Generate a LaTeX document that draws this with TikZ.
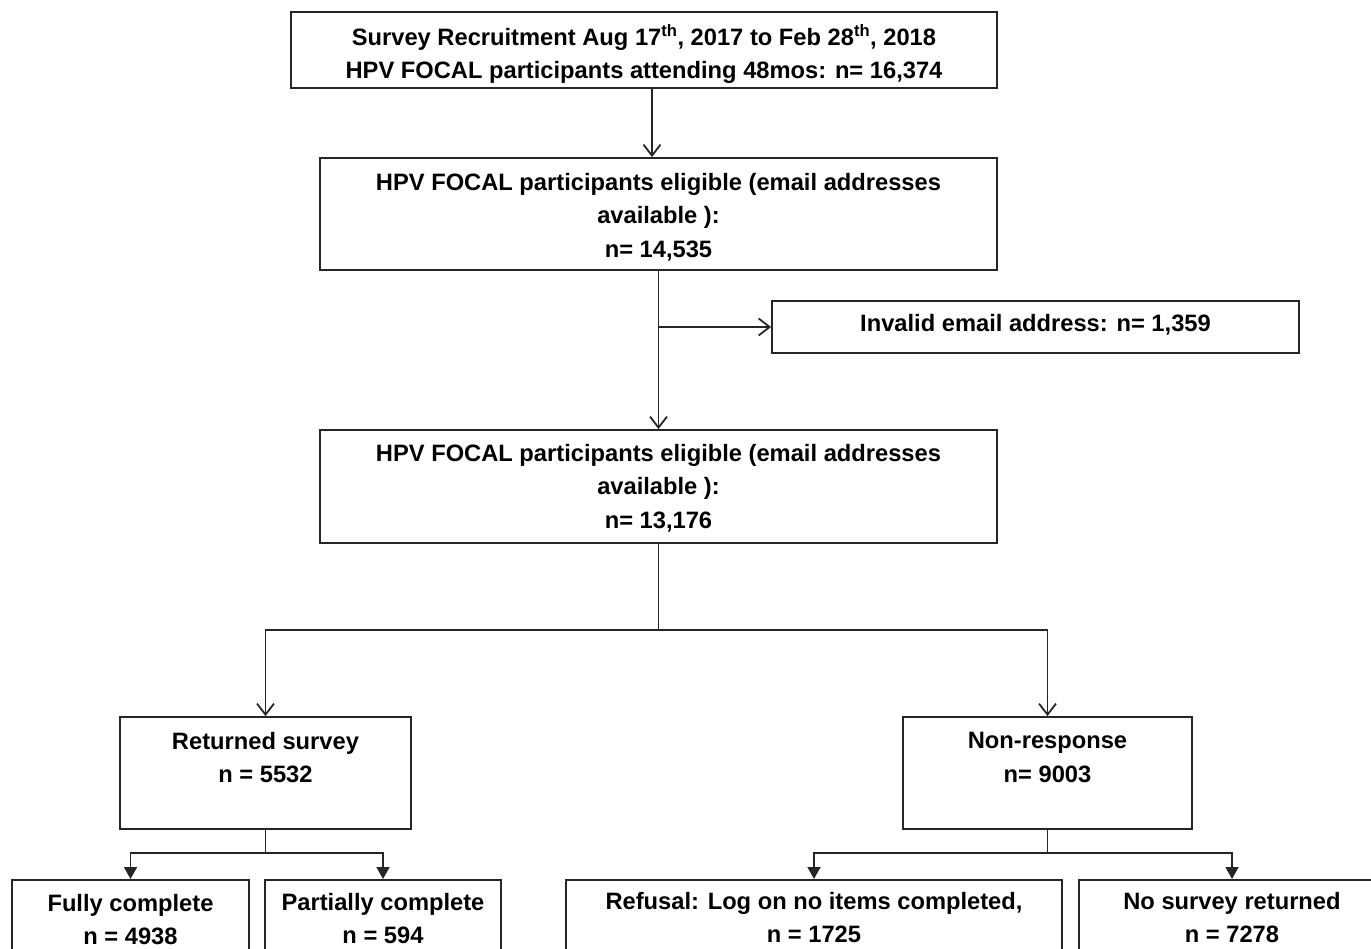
\documentclass[tikz,border=0pt]{standalone}
\usepackage{fontspec}
\setmainfont{Liberation Sans}
\usetikzlibrary{arrows.meta}
\begin{document}
\begin{tikzpicture}[x=1pt,y=-1pt,
  box/.style={draw=black!85,line width=1.8pt,inner sep=0pt},
  txt/.style={inner sep=0pt,align=center,anchor=north,
    font=\fontsize{23.7}{33.5}\selectfont\bfseries},
  conn/.style={draw=black!85,line width=1.8pt},
  openarr/.style={conn,-{Straight Barb[length=11pt,width=17pt,line width=1.8pt]}},
  filarr/.style={conn,-{Triangle[length=12pt,width=13pt]}}]
\useasboundingbox (0,0) rectangle (1371,949);
\begin{scope}
\clip (0,0) rectangle (1371,949);
\node[box,minimum width=706pt,minimum height=76pt] (b1) at (644,50) {};
\node[box,minimum width=677pt,minimum height=112pt] (b2) at (658.5,214) {};
\node[box,minimum width=527pt,minimum height=52pt] (inv) at (1035.5,327) {};
\node[box,minimum width=677pt,minimum height=113pt] (b3) at (658.5,486.5) {};
\node[box,minimum width=291pt,minimum height=112pt] (ret) at (265.5,773) {};
\node[box,minimum width=289pt,minimum height=112pt] (non) at (1047.5,773) {};
\node[box,minimum width=237pt,minimum height=80pt,anchor=north] (full) at (130.5,879) {};
\node[box,minimum width=236pt,minimum height=80pt,anchor=north] (part) at (383,879) {};
\node[box,minimum width=496pt,minimum height=78pt,anchor=north] (ref) at (814,879) {};
\node[box,minimum width=306pt,minimum height=78pt,anchor=north] (nos) at (1232,879) {};

\node[txt] (b1t) at ([yshift=-13pt]b1.north)
  {Survey Recruitment Aug 17\textsuperscript{th}, 2017 to Feb 28\textsuperscript{th}, 2018\\HPV FOCAL participants attending 48mos: n= 16,374};
\node[txt] (b2t) at ([yshift=-16pt]b2.north)
  {HPV FOCAL participants eligible (email addresses\\available ):\\n= 14,535};
\node[txt,anchor=center] (invt) at ([yshift=2pt]inv.center) {Invalid email address: n= 1,359};
\node[txt] (b3t) at ([yshift=-15pt]b3.north)
  {HPV FOCAL participants eligible (email addresses\\available ):\\n= 13,176};
\node[txt] (rett) at ([yshift=-16pt]ret.north) {Returned survey\\n = 5532};
\node[txt] (nont) at ([yshift=-16pt]non.north) {Non-response\\n= 9003};
\node[txt] (fullt) at ([yshift=-15pt]full.north) {Fully complete\\n = 4938};
\node[txt] (partt) at ([yshift=-14pt]part.north) {Partially complete\\n = 594};
\node[txt] (reft) at ([yshift=-13pt]ref.north) {Refusal: Log on no items completed,\\n = 1725};
\node[txt] (nost) at ([yshift=-13pt]nos.north) {No survey returned\\n = 7278};

\draw[openarr] ([xshift=8pt]b1.south) -- ([xshift=8pt]b1.south |- b2.north);
\draw[openarr] (b2.south) -- (b3.north);
\coordinate (jinv) at (b2.south |- inv.west);
\draw[openarr] (jinv) -- (inv.west);

\coordinate (s3) at (658.5,630);
\draw[conn] (b3.south) -- (s3);
\draw[openarr] (s3) -| (ret.north);
\draw[openarr] (s3) -| (non.north);

\coordinate (sr) at (265.5,853);
\draw[conn] (ret.south) -- (sr);
\draw[filarr] (sr) -| (full.north);
\draw[filarr] (sr) -| (part.north);

\coordinate (sn) at (1047.5,853);
\draw[conn] (non.south) -- (sn);
\draw[filarr] (sn) -| (ref.north);
\draw[filarr] (sn) -| (nos.north);
\end{scope}
\end{tikzpicture}
\end{document}
